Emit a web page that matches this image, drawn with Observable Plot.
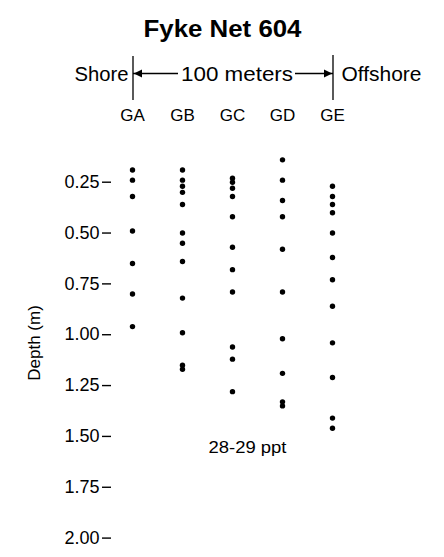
<!DOCTYPE html>
<html><head><meta charset="utf-8">
<script src="https://cdn.jsdelivr.net/npm/d3@7"></script>
<script src="https://cdn.jsdelivr.net/npm/@observablehq/plot@0.6"></script>
<style>html,body{margin:0;padding:0;background:#fff;} svg{display:block}</style>
</head><body><div id="chart"></div>
<script>
const title = "Fyke Net 604";
const columns = ["GA", "GB", "GC", "GD", "GE"];
const depthGA = [0.19, 0.24, 0.32, 0.49, 0.65, 0.80, 0.96];
const depthGB = [0.19, 0.24, 0.27, 0.30, 0.36, 0.50, 0.55, 0.64, 0.82, 0.99, 1.15, 1.17];
const depthGC = [0.23, 0.25, 0.28, 0.32, 0.42, 0.57, 0.68, 0.79, 1.06, 1.12, 1.28];
const depthGD = [0.14, 0.24, 0.34, 0.42, 0.58, 0.79, 1.02, 1.19, 1.33, 1.35];
const depthGE = [0.27, 0.32, 0.36, 0.40, 0.50, 0.62, 0.73, 0.86, 1.04, 1.21, 1.41, 1.46];
const yTicks = [0.25, 0.50, 0.75, 1.00, 1.25, 1.50, 1.75, 2.00];
const shoreLabel = "Shore";
const offshoreLabel = "Offshore";
const distanceLabel = "100 meters";
const yLabel = "Depth (m)";
const salinityLabel = "28-29 ppt";

const series = [depthGA, depthGB, depthGC, depthGD, depthGE];
const data = columns.flatMap((station, i) => series[i].map(depth => ({station, depth})));

const FONT = '"Liberation Sans", Arial, Helvetica, sans-serif';

function annotations(index, scales, values, dims) {
  const g = d3.create("svg:g").attr("fill", "#000").attr("font-family", FONT);
  const xA = scales.x("GA") + 1, xE = scales.x("GE") + 1;
  const lineY = 73.5;
  // title
  g.append("text").attr("x", 222.5).attr("y", 36.7).attr("text-anchor", "middle")
    .attr("font-size", 24).attr("font-weight", "bold")
    .attr("textLength", 158).attr("lengthAdjust", "spacingAndGlyphs").text(title);
  // shore / offshore
  g.append("text").attr("x", xA - 4.5).attr("y", 80.7).attr("text-anchor", "end")
    .attr("font-size", 20).attr("textLength", 54).attr("lengthAdjust", "spacingAndGlyphs").text(shoreLabel);
  g.append("text").attr("x", xE + 8.5).attr("y", 80.7).attr("text-anchor", "start")
    .attr("font-size", 20).attr("textLength", 80).attr("lengthAdjust", "spacingAndGlyphs").text(offshoreLabel);
  const mid = (xA + xE) / 2 + 4;
  g.append("text").attr("x", mid).attr("y", 80.7).attr("text-anchor", "middle")
    .attr("font-size", 20).attr("textLength", 112).attr("lengthAdjust", "spacingAndGlyphs").text(distanceLabel);
  // bars
  g.append("line").attr("x1", xA).attr("x2", xA).attr("y1", 56).attr("y2", 100).attr("stroke", "#000").attr("stroke-width", 1.3);
  g.append("line").attr("x1", xE).attr("x2", xE).attr("y1", 55).attr("y2", 100).attr("stroke", "#000").attr("stroke-width", 1.3);
  // arrow lines
  g.append("line").attr("x1", xA).attr("x2", mid - 59).attr("y1", lineY).attr("y2", lineY).attr("stroke", "#000").attr("stroke-width", 1.3);
  g.append("line").attr("x1", mid + 58).attr("x2", xE).attr("y1", lineY).attr("y2", lineY).attr("stroke", "#000").attr("stroke-width", 1.3);
  // arrowheads
  g.append("path").attr("d", `M${xA + 0.8},${lineY} L${xA + 9},${lineY - 4} L${xA + 9},${lineY + 4} Z`);
  g.append("path").attr("d", `M${xE - 0.8},${lineY} L${xE - 9},${lineY - 4} L${xE - 9},${lineY + 4} Z`);
  // y label
  g.append("text").attr("transform", "translate(34,343) rotate(-90)").attr("text-anchor", "middle")
    .attr("dy", "0.35em").attr("font-size", 17).text(yLabel);
  // salinity note
  g.append("text").attr("x", 247.5).attr("y", 453).attr("text-anchor", "middle")
    .attr("font-size", 16).attr("textLength", 78).attr("lengthAdjust", "spacingAndGlyphs").text(salinityLabel);
  return g.node();
}

const chart = Plot.plot({
  width: 444,
  height: 557,
  marginLeft: 111,
  marginTop: 120,
  marginRight: 0,
  marginBottom: 0,
  style: {fontFamily: FONT, fontSize: "18px", color: "#000", background: "#fff"},
  x: {type: "point", domain: columns, range: [131, 332], padding: 0},
  y: {domain: [0.25, 2.0], range: [181.7, 537.6]},
  marks: [
    Plot.axisX({anchor: "top", tickSize: 0, tickPadding: 0, fontSize: 17, label: null}),
    Plot.axisY({ticks: yTicks, tickFormat: d3.format(".2f"), tickSize: 9, tickPadding: 3, strokeWidth: 1.4, label: null, fontSize: 18}),
    Plot.dot(data, {x: "station", y: "depth", r: 2.7, fill: "#000", stroke: null}),
    annotations
  ]
});
document.getElementById("chart").appendChild(chart);
</script>
</body></html>
